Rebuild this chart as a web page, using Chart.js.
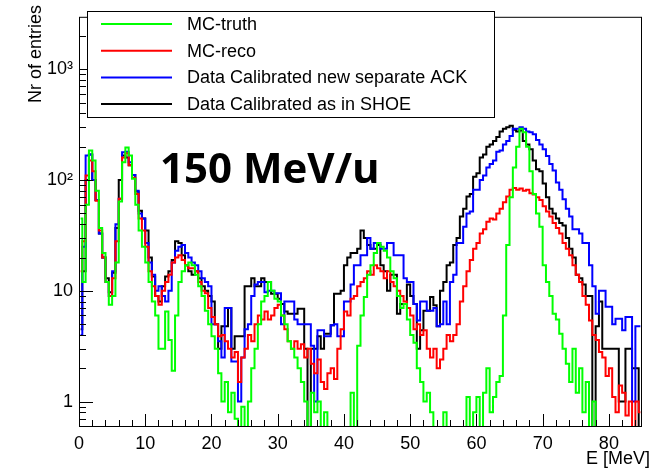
<!DOCTYPE html>
<html>
<head>
<meta charset="utf-8">
<script src="https://cdn.jsdelivr.net/npm/chart.js@4.4.1/dist/chart.umd.min.js"></script>
<style>
  html, body { margin: 0; padding: 0; background: #ffffff; }
  #wrap { width: 664px; height: 469px; }
</style>
</head>
<body>
<div id="wrap"><canvas id="spectrum" width="664" height="469"></canvas></div>
<script>
/* ============================================
   DATA - energy spectra, 0.5 MeV bins from 0 to 85 MeV
   ============================================ */
const BIN_WIDTH = 0.5;
const X_MIN = 0;
const X_MAX = 85;
const Y_MIN = 0.59;
const Y_MAX = 2980;

const xTickValues = [0, 10, 20, 30, 40, 50, 60, 70, 80];
const yTickValues = [1, 10, 100, 1000];
const yTickLabels = ['1', '10', '10²', '10³'];

const seriesLabels = ['MC-truth', 'MC-reco', 'Data Calibrated new separate ACK', 'Data Calibrated as in SHOE'];
const seriesColors = ['#00ff00', '#ff0000', '#0000ff', '#000000'];

const mcTruth = [
  45, 12, 60, 185, 150, 80, 37, 22, 12, 7.5,
  9, 18, 64, 145, 197, 167, 103, 60, 35, 25,
  18, 12, 8, 6, 3, 3, 6.5, 3.6, 1.9, 6,
  12, 15, 17, 18, 17, 14, 11, 9, 6.6, 5,
  3.9, 3, 1.8, 1, 1.5, 0.8, 1.2, 0.7, 0, 0.9,
  0, 1, 2, 3, 5, 8, 9, 12, 10, 8.5,
  8, 6, 5, 3.5, 3, 2.5, 2, 1.5, 1, 0,
  1.2, 0.8, 1, 0, 0.8, 0, 0, 0, 0, 0,
  0, 0, 1.2, 0, 3.2, 6, 8.8, 14, 17, 22,
  27, 25, 23, 20, 15, 13, 9, 7, 7.6, 5.5,
  4, 3.4, 2, 1.5, 1, 1.2, 0.8, 0, 0, 0,
  0.8, 0, 0, 0, 0, 0, 0, 1.1, 0, 0.8,
  1.1, 0, 1.2, 2, 0.8, 1.1, 1.5, 1.7, 6, 26,
  70, 130, 200, 290, 270, 200, 120, 75, 50, 38,
  17, 12, 9, 6.2, 5.5, 4.1, 3, 2.2, 1.5, 3,
  1.2, 2, 0.8, 1.5, 0, 1, 0, 0, 0, 0,
  0, 0, 0, 0, 0, 0, 0, 0, 0, 0
];

const mcReco = [
  15, 28, 110, 150, 120, 65, 35, 20, 12, 9,
  13, 28, 68, 160, 175, 136, 105, 75, 45, 35,
  25, 15, 11, 9, 7.5, 10, 12, 14, 18, 20,
  21, 19, 17, 16, 16, 15, 12, 10, 9.5, 7,
  5.8, 5, 3.9, 4, 3.5, 3, 2.5, 2.8, 1.5, 2.5,
  3, 4, 3.5, 5, 6, 5.5, 6.5, 5.5, 6, 7,
  7.5, 6, 4.5, 3.5, 3, 3.5, 3, 3.3, 2.5, 3,
  2.2, 1.8, 2.4, 1.5, 1.3, 1.8, 2, 1.6, 3, 4.5,
  6.5, 6, 8.5, 9, 11, 12, 13, 15, 14, 17,
  16, 15, 13, 15, 12, 11, 10, 9, 8, 7,
  6, 4.5, 5, 4, 4.4, 3, 2.5, 3, 2, 2.4,
  3, 4, 3.5, 4, 5, 8, 11, 15, 19, 24,
  27, 33, 36, 42, 45, 44, 50, 55, 63, 71,
  82, 85, 82, 84, 80, 82, 76, 74, 70, 66,
  58, 52, 47, 41, 37, 33, 27, 24, 21, 17,
  14, 12, 9, 7.5, 5.4, 4, 3.6, 2.8, 2.5, 1.7,
  2, 1.1, 0.8, 1.4, 1.2, 0.75, 1, 0, 1, 0.8
];

const dataAck = [
  4, 25, 167, 170, 100, 66, 33, 20, 12, 9,
  15, 40, 68, 178, 180, 145, 111, 80, 50, 45,
  27, 18, 14, 10, 11, 9, 8, 10, 18, 23,
  25, 26, 22, 20, 18, 17, 15, 13, 12, 11,
  5, 5, 3.5, 2.5, 7, 7, 2.3, 2.3, 1, 2.5,
  4.5, 5, 9, 11.4, 12, 12, 9.7, 10, 10, 9.5,
  9.5, 5, 8, 8, 8, 5.5, 5, 5, 5, 5,
  3.2, 1, 4.4, 4.4, 3.9, 3.9, 4.9, 5, 3.9, 3.9,
  8, 8, 11.4, 17, 17, 21, 21, 30, 24, 27,
  27, 24, 24, 27, 27, 21, 21, 21, 13, 12,
  12, 7.6, 5.4, 8, 8, 6.6, 6.6, 7, 4.8, 5,
  8, 5, 12, 14, 27, 27, 38, 50, 52, 82,
  82, 100, 110, 130, 140, 150, 180, 185, 210, 225,
  250, 290, 290, 300, 290, 275, 270, 260, 230, 210,
  190, 165, 140, 122, 95, 82, 67, 55, 47, 36,
  36, 33, 27, 27, 17, 11, 6.2, 10, 10, 7.2,
  7.2, 5, 5.6, 5.6, 4.4, 5.8, 5.8, 1, 4.8, 4.8
];

const dataShoe = [
  4.5, 15, 100, 170, 100, 66, 33, 20, 13, 9.7,
  14.6, 37, 100, 167, 160, 136, 111, 79, 53, 45,
  35, 20, 13.5, 9, 8, 11, 13.5, 15, 19, 28,
  27, 21, 17, 15, 14, 15, 13, 11, 10, 9,
  8, 5, 3, 4.8, 4.8, 7, 3, 3.9, 3.9, 3.9,
  11, 11, 13, 11, 11, 13, 12, 12, 9.4, 9.4,
  8.5, 7.6, 6.5, 6.2, 6.2, 6.2, 6.9, 6.9, 3, 0,
  3, 3, 3.9, 3, 4.1, 4.1, 4.9, 9.4, 9.4, 10,
  17, 20, 22, 22, 24, 35, 30, 26, 24, 24,
  26, 17, 15, 10, 14, 14, 6.2, 7.6, 7.6, 11.4,
  9, 7.6, 3, 4.4, 6.6, 6.6, 8.8, 7.4, 4.8, 10,
  12, 17, 18, 26, 30, 47, 55, 71, 75, 107,
  115, 160, 170, 200, 210, 225, 245, 275, 290, 300,
  310, 285, 275, 280, 225, 210, 190, 150, 125, 120,
  93, 70, 55, 50, 45, 41, 39, 30, 24, 20,
  14, 13, 11.4, 9, 9, 0, 4.8, 8, 3, 3,
  3, 3, 3, 1, 1, 3, 3, 2, 2, 0
];

const seriesValues = [mcTruth, mcReco, dataAck, dataShoe];

/* ============================================
   HELPERS
   ============================================ */
// empty bins sit on the bottom of the frame, like ROOT does
function toPoints(values) {
  return values.map((v, i) => ({
    x: (i + 0.5) * BIN_WIDTH,
    y: v > 0 ? v : Y_MIN
  }));
}

/* ============================================
   FRAME, TICKS, LEGEND, TITLES (ROOT look)
   ============================================ */
const rootFrame = {
  id: 'rootFrame',
  afterDatasetsDraw(chart) {
    const ctx = chart.ctx;
    const a = chart.chartArea;
    const xs = chart.scales.x;
    const ys = chart.scales.y;

    ctx.save();
    ctx.strokeStyle = '#000';
    ctx.lineWidth = 1;
    ctx.strokeRect(a.left + 0.5, a.top + 0.5, a.right - a.left - 1, a.bottom - a.top - 1);

    ctx.beginPath();
    // x ticks every 2 MeV, pointing inward
    for (let k = 0; k * 2 <= X_MAX; k++) {
      const v = k * 2;
      const px = Math.round(xs.getPixelForValue(v)) + 0.5;
      const len = v % 10 === 0 ? 13 : 7;
      ctx.moveTo(px, a.bottom);
      ctx.lineTo(px, a.bottom - len);
    }
    // log y ticks
    [0.1, 1, 10, 100, 1000].forEach(dec => {
      for (let m = 1; m <= 9; m++) {
        const v = dec * m;
        if (v < Y_MIN || v > Y_MAX) continue;
        const py = Math.round(ys.getPixelForValue(v)) + 0.5;
        const len = m === 1 ? 14 : 7;
        ctx.moveTo(a.left, py);
        ctx.lineTo(a.left + len, py);
      }
    });
    ctx.stroke();
    ctx.restore();
  },
  afterDraw(chart) {
    const ctx = chart.ctx;
    ctx.save();

    // legend box
    const box = { left: 87, top: 11, right: 494, bottom: 117 };
    ctx.fillStyle = '#fff';
    ctx.fillRect(box.left, box.top, box.right - box.left, box.bottom - box.top);
    ctx.strokeStyle = '#000';
    ctx.lineWidth = 1;
    ctx.strokeRect(box.left + 0.5, box.top + 0.5, box.right - box.left, box.bottom - box.top);

    ctx.font = '18px "Liberation Sans", Arial, sans-serif';
    ctx.textBaseline = 'middle';
    ctx.textAlign = 'left';
    chart.data.datasets.forEach((ds, i) => {
      const rowY = 24 + i * 26.7;
      ctx.strokeStyle = ds.borderColor;
      ctx.lineWidth = 2;
      ctx.beginPath();
      ctx.moveTo(101, rowY);
      ctx.lineTo(172, rowY);
      ctx.stroke();
      ctx.fillStyle = '#000';
      ctx.fillText(ds.label, 187, rowY + 1);
    });

    // axis titles
    ctx.fillStyle = '#000';
    ctx.textAlign = 'right';
    ctx.textBaseline = 'alphabetic';
    ctx.fillText('E [MeV]', 650, 464);

    ctx.save();
    ctx.translate(36, 5);
    ctx.rotate(-Math.PI / 2);
    ctx.textAlign = 'right';
    ctx.textBaseline = 'middle';
    ctx.fillText('Nr of entries', 0, 0);
    ctx.restore();

    // beam energy label
    ctx.font = 'bold 42px "Open Sans", sans-serif';
    ctx.textAlign = 'left';
    ctx.textBaseline = 'alphabetic';
    ctx.fillText('150 MeV/u', 160, 183);

    ctx.restore();
  }
};

/* ============================================
   CHART
   ============================================ */
const ctx = document.getElementById('spectrum').getContext('2d');

new Chart(ctx, {
  type: 'line',
  data: {
    datasets: seriesLabels.map((label, i) => ({
      label: label,
      data: toPoints(seriesValues[i]),
      borderColor: seriesColors[i],
      backgroundColor: 'transparent',
      borderWidth: 2,
      stepped: 'middle',
      pointRadius: 0,
      fill: false
    }))
  },
  options: {
    responsive: false,
    animation: false,
    layout: { padding: { top: 5, right: 22, left: 0, bottom: 0 } },
    plugins: {
      legend: { display: false },
      tooltip: { enabled: false }
    },
    scales: {
      x: {
        type: 'linear',
        min: X_MIN,
        max: X_MAX,
        grid: { display: false, drawTicks: false },
        border: { display: false },
        afterBuildTicks: scale => { scale.ticks = xTickValues.map(v => ({ value: v })); },
        afterFit: scale => { scale.height = 42; },
        ticks: {
          color: '#000',
          font: { family: '"Liberation Sans", Arial, sans-serif', size: 18 },
          padding: 6,
          maxRotation: 0,
          autoSkip: false,
          callback: value => String(value)
        }
      },
      y: {
        type: 'logarithmic',
        min: Y_MIN,
        max: Y_MAX,
        grid: { display: false, drawTicks: false },
        border: { display: false },
        afterBuildTicks: scale => { scale.ticks = yTickValues.map(v => ({ value: v })); },
        afterFit: scale => { scale.width = 79; },
        ticks: {
          color: '#000',
          font: { family: '"Liberation Sans", Arial, sans-serif', size: 18 },
          padding: 6,
          autoSkip: false,
          callback: value => {
            const idx = yTickValues.indexOf(value);
            return idx >= 0 ? yTickLabels[idx] : '';
          }
        }
      }
    }
  },
  plugins: [rootFrame]
});
</script>
</body>
</html>
